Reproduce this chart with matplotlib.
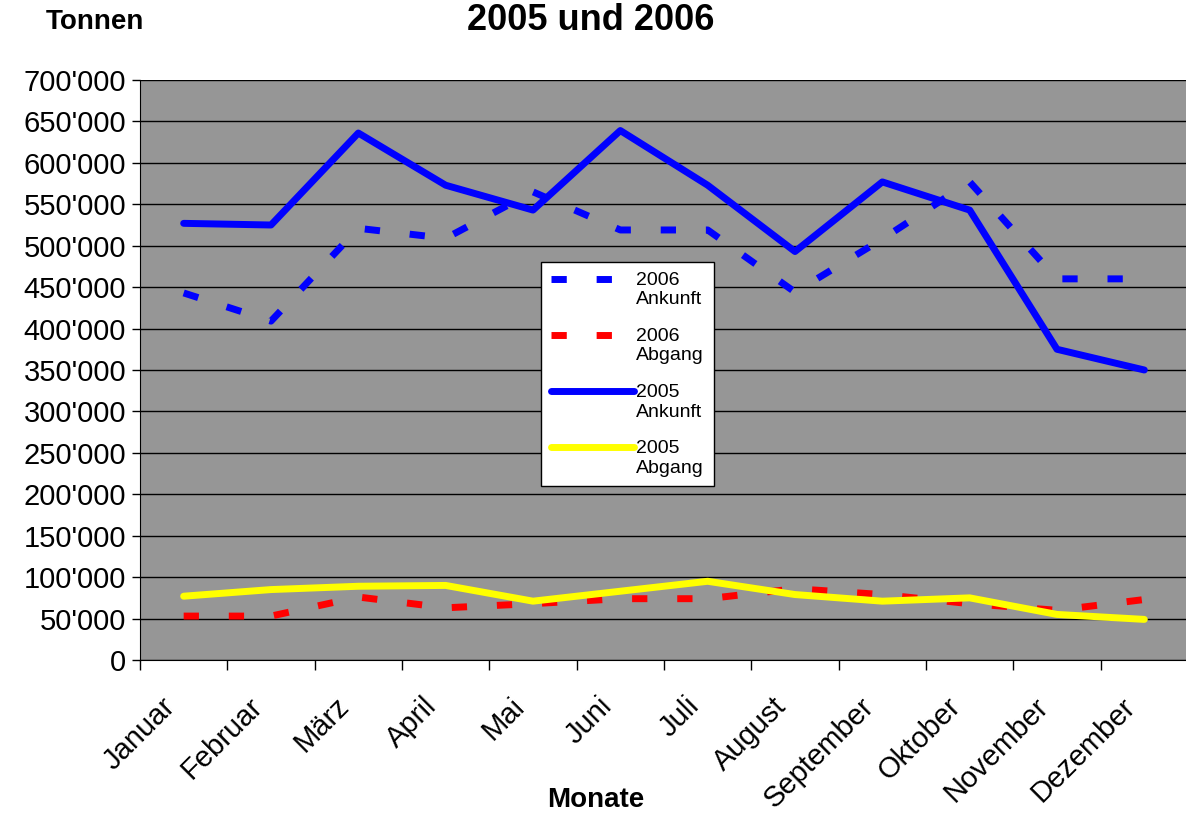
import numpy as np
import matplotlib.pyplot as plt
import matplotlib.transforms as mtransforms
from matplotlib.legend_handler import HandlerLine2D
from matplotlib.ticker import FuncFormatter, MultipleLocator, FixedLocator

plt.rcParams['font.family'] = ['Liberation Sans', 'DejaVu Sans']

months = ['Januar', 'Februar', 'März', 'April', 'Mai', 'Juni', 'Juli',
          'August', 'September', 'Oktober', 'November', 'Dezember']

ankunft_2006 = [443000, 409000, 521000, 509000, 565000, 519000, 519000,
                444000, 508000, 577000, 460000, 460000]
abgang_2006 = [53000, 53000, 76000, 63000, 68000, 74000, 74000,
               86000, 79000, 68000, 60000, 73000]
ankunft_2005 = [527000, 525000, 636000, 573000, 543000, 639000, 573000,
                493000, 577000, 543000, 375000, 350000]
abgang_2005 = [77000, 85000, 89000, 90000, 71000, 83000, 95000,
               79000, 71000, 75000, 55000, 49000]


class HandlerFirstLine(HandlerLine2D):
    # put the legend line level with the first text line (like Excel)
    def create_artists(self, *args, **kwargs):
        artists = super().create_artists(*args, **kwargs)
        for a in artists:
            a.set_ydata(np.asarray(a.get_ydata()) + 8)
        return artists


fig = plt.figure(figsize=(11.86, 8.14), dpi=100)
ax = fig.add_axes([140 / 1186, 154 / 814, 1048 / 1186, 580 / 814])
ax.set_facecolor('#969696')

x = np.arange(len(months))
dash = (0, (2.2, 4.3))
ax.plot(x, ankunft_2006, color='#0000ff', lw=5, linestyle=dash, label='2006\nAnkunft', zorder=3)
ax.plot(x, abgang_2006, color='#ff0000', lw=5, linestyle=dash, label='2006\nAbgang', zorder=3)
ax.plot(x, ankunft_2005, color='#0000ff', lw=5, solid_capstyle='round', label='2005\nAnkunft', zorder=4)
ax.plot(x, abgang_2005, color='#ffff00', lw=5, solid_capstyle='round', label='2005\nAbgang', zorder=4)

ax.set_xlim(-0.5, 11.5)
ax.set_ylim(0, 700000)
ax.yaxis.set_major_locator(MultipleLocator(50000))
ax.yaxis.set_major_formatter(FuncFormatter(
    lambda v, p: '0' if v == 0 else f'{int(v):,}'.replace(',', "'")))
ax.grid(axis='y', color='black', lw=1)
ax.set_axisbelow(True)

# month labels: right-top corner slightly left of the category centre
ax.set_xticks(x)
ax.set_xticklabels([])
ax.xaxis.set_minor_locator(FixedLocator(np.arange(-0.5, 12, 1)))
ax.tick_params(axis='x', which='major', length=0)
ax.tick_params(axis='x', which='minor', length=7, width=1)
ax.tick_params(axis='y', labelsize=21, length=6, width=1, pad=4)
offset = mtransforms.ScaledTranslation(-23 / 100, -32 / 100, fig.dpi_scale_trans)
for i, m in enumerate(months):
    ax.text(i, 0, m, transform=ax.get_xaxis_transform() + offset, fontsize=21,
            rotation=45, ha='right', va='top', rotation_mode='anchor')

for s in ['top', 'right']:
    ax.spines[s].set_visible(False)

fig.text(596 / 1186, 1 - 800 / 814, 'Monate', fontsize=20, fontweight='bold',
         ha='center', va='center')
fig.text(591 / 1186, 1 - 20 / 814, '2005 und 2006', fontsize=26, fontweight='bold',
         ha='center', va='center')
fig.text(95 / 1186, 1 - 22 / 814, 'Tonnen', fontsize=20, fontweight='bold',
         ha='center', va='center')

leg = ax.legend(loc='upper left', bbox_to_anchor=(0.3826, 0.686), borderaxespad=0,
                fontsize=14, handlelength=4.3, labelspacing=1.0, handletextpad=0.1,
                borderpad=0.5, fancybox=False, framealpha=1, edgecolor='black',
                handler_map={plt.Line2D: HandlerFirstLine()})
leg.get_frame().set_linewidth(1)

fig.savefig('out.png', dpi=100)
